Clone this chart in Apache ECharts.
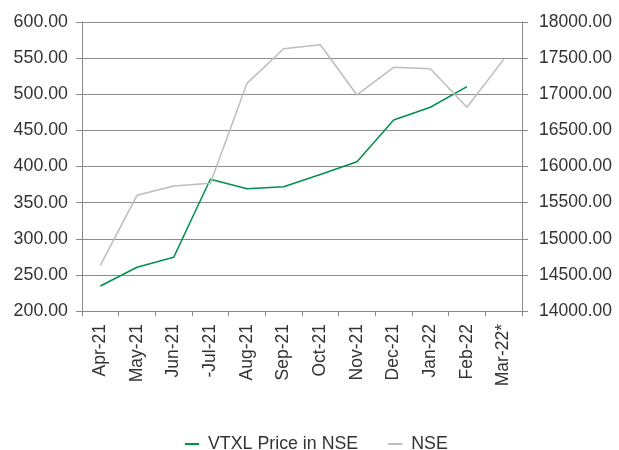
<!DOCTYPE html>
<html><head><meta charset="utf-8">
<script src="https://cdn.jsdelivr.net/npm/echarts@6/dist/echarts.min.js"></script>
<style>html,body{margin:0;padding:0;background:#fff}#c{width:619px;height:450px}</style>
</head><body><div id="c"></div>
<script>
var categories = ['Apr-21','May-21','Jun-21','-Jul-21','Aug-21','Sep-21','Oct-21','Nov-21','Dec-21','Jan-22','Feb-22','Mar-22*'];
var vtxlPrice = [234.6, 260.5, 274.3, 382.3, 369.3, 372, 389, 406.6, 464.4, 482, 510.5, null];
var nseIndex = [14632, 15601, 15730, 15767, 17151, 17630, 17685, 16990, 17373, 17354, 16819, 17483];
var leftTicks = [200, 600, 50];
var rightTicks = [14000, 18000, 500];

var font = 'Liberation Sans';
var chart = echarts.init(document.getElementById('c'));
chart.setOption({
  animation: false,
  textStyle: {fontFamily: font},
  grid: {left: 82, right: 97, top: 22, bottom: 139, containLabel: false},
  legend: {
    top: 430, left: 180, itemWidth: 14, itemHeight: 2, itemGap: 30,
    textStyle: {fontSize: 17.8, color: '#333', fontFamily: font, padding: [0, 0, 0, 4]},
    icon: 'rect',
    data: ['VTXL Price in NSE', 'NSE']
  },
  xAxis: {
    type: 'category', data: categories, boundaryGap: true,
    axisLine: {lineStyle: {color: '#888', width: 1}},
    axisTick: {show: true, length: 5, lineStyle: {color: '#888'}},
    axisLabel: {rotate: 90, fontSize: 17.5, color: '#333', margin: 13, fontFamily: font}
  },
  yAxis: [{
    type: 'value', min: leftTicks[0], max: leftTicks[1], interval: leftTicks[2],
    axisLine: {show: true, lineStyle: {color: '#888'}},
    axisTick: {show: true, length: 6, lineStyle: {color: '#888'}},
    axisLabel: {fontSize: 17.8, color: '#333', margin: 14, fontFamily: font,
      formatter: function(v){return v.toFixed(2);}},
    splitLine: {show: true, lineStyle: {color: '#8c8c8c', width: 1}}
  }, {
    type: 'value', min: rightTicks[0], max: rightTicks[1], interval: rightTicks[2],
    position: 'right',
    axisLine: {show: true, lineStyle: {color: '#888'}},
    axisTick: {show: true, length: 6, lineStyle: {color: '#888'}},
    axisLabel: {fontSize: 17.5, color: '#333', margin: 17, fontFamily: font,
      formatter: function(v){return v.toFixed(2);}},
    splitLine: {show: false}
  }],
  series: [{
    name: 'VTXL Price in NSE', type: 'line', yAxisIndex: 0, data: vtxlPrice,
    symbol: 'none', lineStyle: {color: '#00904a', width: 1.5}, itemStyle: {color: '#00904a'}
  }, {
    name: 'NSE', type: 'line', yAxisIndex: 1, data: nseIndex,
    symbol: 'none', lineStyle: {color: '#bdbdbd', width: 1.5}, itemStyle: {color: '#bdbdbd'}
  }]
});
</script></body></html>
